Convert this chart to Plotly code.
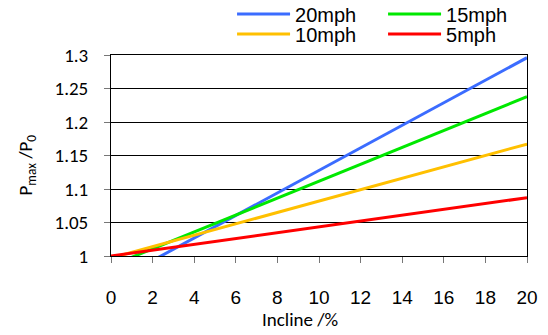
import plotly.graph_objects as go

incline = [0, 4, 8, 12, 16, 20]
p20 = [0.9596, 1.027, 1.094, 1.161, 1.229, 1.296]
p15 = [0.9855, 1.036, 1.0865, 1.137, 1.1873, 1.2378]
p10 = [0.997, 1.031, 1.065, 1.099, 1.133, 1.167]
p5 = [1.0, 1.0174, 1.0348, 1.0522, 1.0696, 1.087]

series_names = ["20mph", "15mph", "10mph", "5mph"]
series_vals = [p20, p15, p10, p5]
series_colors = ["#3B6CFF", "#00E800", "#FFC000", "#FF0000"]
series_legend = ["legend", "legend", "legend2", "legend2"]

y_ticks = [1.0, 1.05, 1.1, 1.15, 1.2, 1.25, 1.3]
y_labels = ["1", "1.05", "1.1", "1.15", "1.2", "1.25", "1.3"]
x_ticks = [0, 2, 4, 6, 8, 10, 12, 14, 16, 18, 20]
x_labels = [str(v) for v in x_ticks]

CAL = "Carlito, Lato, sans-serif"
ARI = "Liberation Sans, Arial, sans-serif"

fig = go.Figure()
for name, vals, col, lg in zip(series_names, series_vals, series_colors, series_legend):
    fig.add_trace(go.Scatter(x=incline, y=vals, mode="lines", name=name,
                             line=dict(color=col, width=3), legend=lg))

# page body has an 8px margin, so the figure is sized/offset to compensate
fig.update_layout(
    width=540, height=327,
    margin=dict(l=103, r=21, t=47, b=79, autoexpand=False),
    plot_bgcolor="white", paper_bgcolor="white",
    showlegend=True,
    legend=dict(orientation="h", x=0.291, xanchor="left", y=1.204, yanchor="middle",
                font=dict(family=ARI, size=20, color="black"), itemwidth=53,
                entrywidth=83, bgcolor="rgba(0,0,0,0)", traceorder="normal"),
    legend2=dict(orientation="h", x=0.291, xanchor="left", y=1.1045, yanchor="middle",
                 font=dict(family=ARI, size=20, color="black"), itemwidth=53,
                 entrywidth=83, bgcolor="rgba(0,0,0,0)", traceorder="normal"),
    xaxis=dict(range=[0, 20], tickvals=x_ticks, ticktext=x_labels, automargin=False,
               showline=True, linecolor="black", linewidth=1, mirror=True,
               ticks="outside", ticklen=6, tickcolor="#777777",
               showgrid=False, zeroline=False, ticklabelstandoff=18,
               tickfont=dict(family=ARI, size=19, color="black")),
    yaxis=dict(range=[1.0, 1.3], tickvals=y_ticks, ticktext=y_labels, automargin=False,
               showline=True, linecolor="black", linewidth=1, mirror=True,
               ticks="outside", ticklen=6, tickcolor="#777777",
               showgrid=True, gridcolor="black", gridwidth=1, zeroline=False,
               ticklabelstandoff=12,
               tickfont=dict(family=CAL, size=19, color="black")),
    annotations=[
        dict(text="Incline /%", x=0.4543, y=-0.318, xref="paper", yref="paper",
             xanchor="center", yanchor="middle", showarrow=False,
             font=dict(family=CAL, size=19, color="black")),
        dict(text="P<sub>max</sub> /P<sub>0</sub>", x=-0.2019, y=0.45, xref="paper", yref="paper",
             xanchor="center", yanchor="middle", showarrow=False, textangle=-90,
             font=dict(family=CAL, size=19, color="black")),
    ],
)

fig.write_html("out.html")
